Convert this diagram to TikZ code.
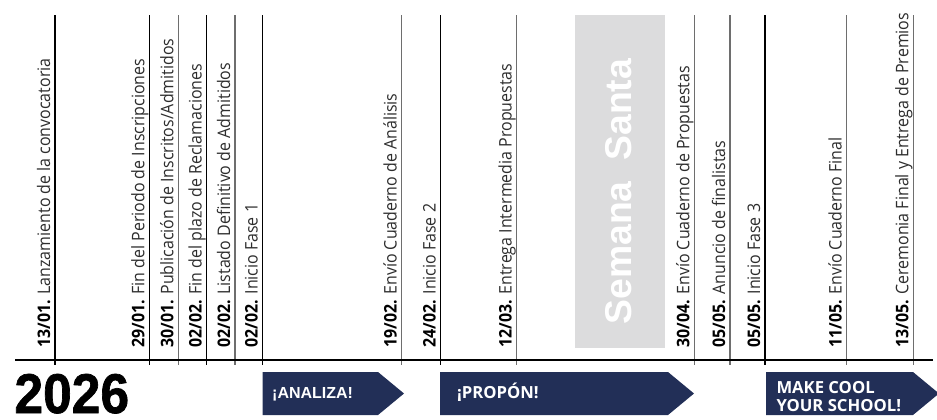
\documentclass[tikz,border=0pt]{standalone}
\usepackage{fontspec}
\setmainfont{Open Sans}
\newfontfamily\fechafont{Open Sans}[FakeStretch=0.92]
\newfontfamily\yearfont{Liberation Sans Bold}[FakeStretch=0.92, FakeBold=1.2]
\newfontfamily\arialfont{Liberation Sans}

\definecolor{navy}{RGB}{34,47,87}
\definecolor{santa}{RGB}{220,220,221}
\definecolor{tickgray}{RGB}{110,110,110}
\definecolor{txtgray}{RGB}{45,45,45}

\tikzset{every picture/.style={line width=0.75pt}}
\tikzset{
  tickdark/.style={draw=black, line width=0.8pt},
  ticklight/.style={draw=tickgray, line width=0.9pt},
  fecha/.style={anchor=base west, rotate=90, inner sep=0pt, text=txtgray, font=\fechafont\fontsize{13}{15}\selectfont},
  fasebox/.style={fill=navy, draw opacity=0},
  fasetxt/.style={anchor=base west, inner sep=0pt, text=white, align=left}
}

\begin{document}
\begin{tikzpicture}[x=0.75pt,y=0.75pt,yscale=-1,xscale=1]

\useasboundingbox (0,0) rectangle (937,419);

% Semana Santa
\draw  [fill=santa, draw opacity=0] (575,15) -- (665,15) -- (665,348) -- (575,348) -- cycle ;
\draw (631,325) node (santaTxt) [anchor=base west, rotate=90, inner sep=0pt, text=white, font=\arialfont\bfseries\fontsize{28}{30}\selectfont] {Semana\ \ Santa};

% ticks
\draw  [tickdark]  (55,15) -- (55,365) ;
\draw  [tickdark]  (149.3,15) -- (149.3,365) ;
\draw  [ticklight]  (178.3,15) -- (178.3,365) ;
\draw  [tickdark]  (206.7,15) -- (206.7,365) ;
\draw  [ticklight]  (235,15) -- (235,365) ;
\draw  [tickdark]  (262.7,15) -- (262.7,365) ;
\draw  [ticklight]  (401.7,15) -- (401.7,365) ;
\draw  [tickdark]  (440.7,15) -- (440.7,365) ;
\draw  [ticklight]  (516.7,15) -- (516.7,365) ;
\draw  [ticklight]  (694.3,15) -- (694.3,365) ;
\draw  [ticklight]  (730,15) -- (730,365) ;
\draw  [tickdark]  (765,15) -- (765,365) ;
\draw  [ticklight]  (846.7,15) -- (846.7,365) ;
\draw  [ticklight]  (913.3,15) -- (913.3,365) ;

% axis
\draw  [line width=1pt]  (15,360) -- (933,360) ;

% phases
\draw  [fasebox] (262.7,372) -- (378,372) -- (404,393.5) -- (378,415) -- (262.7,415) -- cycle ;
\draw  [fasebox] (440,372) -- (668,372) -- (694,393.5) -- (668,415) -- (440,415) -- cycle ;
\draw  [fasebox] (766,372) -- (913,372) -- (939,393.5) -- (913,415) -- (766,415) -- cycle ;

\draw (271.7,398) node (analiza) [fasetxt, font=\arialfont\bfseries\fontsize{12}{14}\selectfont] {¡ANALIZA!};
\draw (456.7,398) node (propon) [fasetxt, font=\bfseries\fontsize{12.5}{14}\selectfont] {¡PROPÓN!};
\draw (776,411.5) node (makecool) [fasetxt, font=\bfseries\fontsize{12.5}{13.6}\selectfont] {MAKE COOL\\YOUR SCHOOL!};

\draw (14,413) node (year) [anchor=base west, inner sep=0pt, font=\yearfont\fontsize{42}{44}\selectfont] {2026};

% fechas
\draw (50,348) node (lanz) [fecha] {\textbf{\color{black}13/01.} Lanzamiento de la convocatoria};
\draw (144.3,348) node (finIns) [fecha] {\textbf{\color{black}29/01.} Fin del Periodo de Inscripciones};
\draw (173.3,348) node (pubIns) [fecha] {\textbf{\color{black}30/01.} Publicación de Inscritos/Admitidos};
\draw (201.7,348) node (finRec) [fecha] {\textbf{\color{black}02/02.} Fin del plazo de Reclamaciones};
\draw (230,348) node (listado) [fecha] {\textbf{\color{black}02/02.} Listado Definitivo de Admitidos};
\draw (257.7,348) node (fase1) [fecha] {\textbf{\color{black}02/02.} Inicio Fase 1};
\draw (396.7,348) node (cuadAna) [fecha] {\textbf{\color{black}19/02.} Envío Cuaderno de Análisis};
\draw (435.7,348) node (fase2) [fecha] {\textbf{\color{black}24/02.} Inicio Fase 2};
\draw (511.7,348) node (entrega) [fecha] {\textbf{\color{black}12/03.} Entrega Intermedia Propuestas};
\draw (689.3,348) node (cuadProp) [fecha] {\textbf{\color{black}30/04.} Envío Cuaderno de Propuestas};
\draw (725,348) node (finalistas) [fecha] {\textbf{\color{black}05/05.} Anuncio de finalistas};
\draw (760,348) node (fase3) [fecha] {\textbf{\color{black}05/05.} Inicio Fase 3};
\draw (841.7,348) node (cuadFin) [fecha] {\textbf{\color{black}11/05.} Envío Cuaderno Final};
\draw (908.3,348) node (ceremonia) [fecha] {\textbf{\color{black}13/05.} Ceremonia Final y Entrega de Premios};

\end{tikzpicture}
\end{document}
